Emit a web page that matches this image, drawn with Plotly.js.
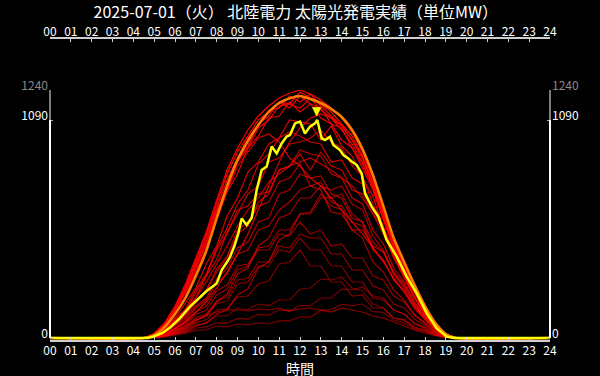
<!DOCTYPE html>
<html>
<head>
<meta charset="utf-8">
<script src="https://cdn.plot.ly/plotly-3.0.1.min.js"></script>
<style>
html,body{margin:0;padding:0;background:#000;}
#chart{width:600px;height:376px;}
</style>
</head>
<body>
<div id="chart"></div>
<script>
// ---- data ----
const TITLE = '2025-07-01（火） 北陸電力 太陽光発電実績（単位MW）';
const X_TITLE = '時間';
const HOURS = [0,1,2,3,4,5,6,7,8,9,10,11,12,13,14,15,16,17,18,19,20,21,22,23,24];
const HOUR_LABELS = ['00','01','02','03','04','05','06','07','08','09','10','11','12','13','14','15','16','17','18','19','20','21','22','23','24'];

// half-hour time grid for past days (hours)
const T = [0,4.5,5,5.5,6,6.5,7,7.5,8,8.5,9,9.5,10,10.5,11,11.5,12,12.5,13,13.5,14,14.5,15,15.5,16,16.5,17,17.5,18,18.5,19,19.5,24];

// past days (MW)
const d01 = [0,0,3,10,24,38,66,74,110,112,150,142,170,162,190,190,245,250,295,290,305,250,235,170,150,100,88,50,38,16,4,0,0];
const d02 = [0,0,17,62,138,235,355,480,630,760,880,950,1050,1090,1160,1170,1150,1200,1140,1100,1040,970,880,760,610,460,345,235,138,62,16,0,0];
const d03 = [0,0,5,18,42,66,118,140,215,245,340,360,440,440,520,510,580,520,540,460,470,400,400,310,290,210,180,115,78,32,7,0,0];
const d04 = [0,0,2,8,22,33,60,75,120,140,215,245,350,380,490,520,620,630,720,660,640,540,500,380,330,240,190,115,72,30,6,0,0];
const d05 = [0,0,10,38,85,145,200,310,390,530,620,720,760,880,900,970,980,1000,1040,980,950,860,810,670,560,410,315,205,126,55,13,0,0];
const d06 = [0,0,2,6,16,23,38,42,60,56,70,66,76,70,86,86,106,104,138,142,168,162,170,132,128,90,76,46,32,14,3,0,0];
const d07 = [0,0,15,55,125,210,330,440,590,730,820,950,1010,1100,1110,1180,1130,1170,1100,1070,990,950,850,740,590,450,335,228,132,58,14,0,0];
const d08 = [0,0,6,22,52,85,150,190,275,320,420,440,540,560,640,680,740,760,780,680,660,580,560,440,390,290,240,155,96,40,9,0,0];
const d09 = [0,0,4,14,32,52,92,110,172,185,270,280,360,360,440,430,500,440,440,360,360,280,280,200,190,140,120,75,52,22,5,0,0];
const d10 = [0,0,8,35,82,135,225,310,440,520,640,660,720,730,840,860,920,840,930,860,840,740,720,620,550,410,320,200,120,50,12,0,0];
const d11 = [0,0,19,64,140,240,360,470,640,740,890,960,1070,1110,1180,1150,1210,1170,1150,1070,1050,950,870,750,600,455,340,232,135,60,15,0,0];
const d12 = [0,0,2,8,20,28,50,56,76,74,98,94,118,114,140,134,162,162,200,200,245,240,255,210,200,140,118,70,48,20,4,0,0];
const d13 = [0,0,6,25,62,95,160,200,295,350,450,480,580,600,720,740,820,800,810,720,700,600,580,480,430,320,260,170,106,45,10,0,0];
const d14 = [0,0,12,45,100,175,250,370,460,610,700,830,880,970,1000,1090,1080,1070,990,1060,960,910,800,710,550,440,310,225,125,58,14,0,0];
const d15 = [0,0,3,12,27,42,76,92,140,148,205,210,270,285,370,380,440,360,360,280,280,210,215,150,150,100,92,55,40,18,4,0,0];
const d16 = [0,0,18,66,145,245,370,500,650,790,900,1000,1060,1140,1150,1210,1180,1220,1160,1110,1060,990,900,770,620,470,355,240,140,64,16,0,0];
const d17 = [0,0,5,20,48,75,130,160,235,265,360,370,450,460,540,540,620,620,700,700,720,620,580,450,390,290,230,145,92,38,8,0,0];
const d18 = [0,0,8,30,72,115,185,240,345,410,540,580,660,680,780,800,870,760,740,630,620,540,540,460,430,330,270,175,112,48,10,0,0];
const d19 = [0,0,4,15,37,56,102,120,185,205,290,300,380,380,460,450,520,500,500,420,420,340,340,260,240,170,150,95,62,28,6,0,0];
const d20 = [0,0,10,40,92,145,240,320,450,550,670,740,870,920,1000,1030,1010,980,970,880,890,800,770,640,550,400,310,200,122,52,12,0,0];
const d21 = [0,0,3,12,30,48,85,115,180,220,320,350,460,500,600,620,700,700,760,740,760,670,640,510,440,320,250,155,96,40,8,0,0];
const d22 = [0,0,22,75,160,270,400,530,690,840,950,1040,1110,1160,1200,1225,1240,1220,1190,1150,1100,1030,930,800,650,490,370,255,150,70,18,0,0];
const d23 = [0,0,7,28,68,105,175,235,330,400,520,560,680,720,840,860,940,920,910,820,800,700,670,540,470,350,280,180,112,48,10,0,0];
const d24 = [0,0,20,70,150,255,385,515,670,820,930,1010,1090,1130,1180,1170,1230,1200,1170,1130,1070,1010,910,780,630,480,360,248,146,66,17,0,0];
const d25 = [0,0,16,60,135,225,340,460,610,740,860,930,1000,1020,980,900,860,800,760,700,640,580,520,450,380,300,230,160,100,45,10,0,0];
const d26 = [0,0,5,20,45,80,130,180,250,330,420,520,640,760,880,980,1050,1100,1120,1100,1060,990,900,780,630,480,360,245,145,65,16,0,0];
const d27 = [0,0,3,14,35,60,90,110,130,140,140,135,145,140,150,135,145,150,140,130,150,140,130,110,100,80,60,40,25,12,3,0,0];
const d28 = [0,0,9,34,78,130,200,280,370,460,560,640,700,780,820,860,880,900,870,840,800,760,700,620,520,400,300,200,120,52,12,0,0];
const PAST = [d01,d06,d12,d15,d09,d27,d19,d03,d17,d04,d21,d08,d13,d18,d23,d28,d10,d05,d20,d25,d26,d14,d07,d11,d02,d16,d24,d22];

// highlighted reference day (orange)
const ORANGE_Y = [0,0,15,55,120,200,310,435,600,760,890,985,1065,1130,1175,1198,1210,1195,1175,1145,1105,1040,945,815,660,500,380,265,160,75,20,0,0];

// today (yellow)
const TODAY_X = [0,4.7,5.0,5.4,5.76,6.2,6.72,7.1,7.52,8.0,8.24,8.5,8.64,8.85,9.04,9.2,9.44,9.68,9.92,10.16,10.4,10.64,10.88,11.12,11.36,11.52,11.76,12.0,12.24,12.48,12.72,12.83,13.04,13.2,13.44,13.6,13.92,14.08,14.32,14.48,14.72,14.96,15.12,15.44,15.76,16.16,16.64,17.12,17.6,18.08,18.56,19.04,19.4,24];
const TODAY_Y = [0,0,8,25,52,95,157,195,235,273,340,380,405,460,523,598,565,600,740,840,857,957,923,973,1007,1015,1073,1082,1023,1057,1073,1090,998,990,1007,965,940,915,898,882,865,823,723,657,607,490,407,307,223,123,48,7,0,0];

// ---- derived ----
const todayMax = Math.max(...TODAY_Y);
const todayMaxX = TODAY_X[TODAY_Y.indexOf(todayMax)];
const allMax = Math.max(todayMax, Math.max(...ORANGE_Y), ...PAST.map(a => Math.max(...a)));

const traces = [];
PAST.forEach((arr, i) => {
  const a = 0.45 + 0.55 * i / (PAST.length - 1);
  traces.push({x: T, y: arr, type: 'scatter', mode: 'lines',
    line: {color: 'rgba(255,0,0,' + a.toFixed(2) + ')', width: 1.2},
    hoverinfo: 'skip', showlegend: false});
});
traces.push({x: T, y: ORANGE_Y, type: 'scatter', mode: 'lines',
  line: {color: '#ff8000', width: 2.5, shape: 'spline', smoothing: 0.6}, showlegend: false});
traces.push({x: TODAY_X, y: TODAY_Y, type: 'scatter', mode: 'lines',
  line: {color: '#ffff00', width: 2.5}, showlegend: false});
// helper trace so that the top and right axes are drawn
traces.push({x: [0, 24], y: [0, 0], xaxis: 'x2', yaxis: 'y2', type: 'scatter', mode: 'lines',
  line: {width: 0, color: 'rgba(0,0,0,0)'}, hoverinfo: 'skip', showlegend: false});

const FONT = '"Noto Sans CJK JP", "Noto Sans", sans-serif';
const yTop = 250 / 302;
const pad = allMax * 0.008;
const yTickText = ['0', String(todayMax), '<span style="color:#8a8a8a">' + allMax + '</span>'];

const xCommon = {range: [0, 24], tickvals: HOURS, ticktext: HOUR_LABELS,
  showgrid: false, zeroline: false, showline: true, linecolor: '#cfcfcf', linewidth: 2,
  ticks: 'inside', ticklen: 3, tickcolor: '#cfcfcf', tickwidth: 1,
  tickfont: {color: '#ffffff', size: 12, family: FONT}, fixedrange: true};

const yCommon = {range: [-pad, allMax], domain: [0, yTop], tickvals: [0, todayMax, allMax], ticktext: yTickText,
  showgrid: false, zeroline: false, showline: false, ticks: 'inside', ticklen: 3,
  ticklabelshift: -4, ticklabelstandoff: 1,
  tickcolor: '#aaaaaa', tickfont: {color: '#ffffff', size: 12, family: FONT}, fixedrange: true};

const layout = {
  width: 600, height: 376,
  margin: {l: 50, r: 50, t: 38, b: 36},
  paper_bgcolor: '#000000', plot_bgcolor: '#000000',
  font: {family: FONT, color: '#ffffff'},
  title: {text: TITLE, x: 0.493, xanchor: 'center', y: 1 - 12 / 376, yanchor: 'middle', yref: 'container',
    font: {size: 16, color: '#ffffff', family: FONT}},
  xaxis: Object.assign({}, xCommon, {anchor: 'y', ticklabelstandoff: -1}),
  xaxis2: Object.assign({}, xCommon, {overlaying: 'x', side: 'top', anchor: 'free', position: 1, ticklabelstandoff: -4}),
  yaxis: Object.assign({}, yCommon, {side: 'left'}),
  yaxis2: Object.assign({}, yCommon, {side: 'right', overlaying: 'y', anchor: 'x'}),
  shapes: [
    {type: 'line', xref: 'paper', yref: 'y', x0: 0, x1: 0, y0: 0, y1: todayMax, line: {color: '#ffffff', width: 2}},
    {type: 'line', xref: 'paper', yref: 'y', x0: 0, x1: 0, y0: todayMax, y1: allMax, line: {color: '#7a7a7a', width: 2}},
    {type: 'line', xref: 'paper', yref: 'y', x0: 1, x1: 1, y0: 0, y1: todayMax, line: {color: '#ffffff', width: 2}},
    {type: 'line', xref: 'paper', yref: 'y', x0: 1, x1: 1, y0: todayMax, y1: allMax, line: {color: '#7a7a7a', width: 2}}
  ],
  annotations: [
    {x: todayMaxX, y: todayMax, xref: 'x', yref: 'y', text: '▼', showarrow: false,
      yanchor: 'bottom', yshift: 0, font: {color: '#ffff00', size: 12, family: 'DejaVu Sans'}},
    {x: 0.5, y: 0, xref: 'paper', yref: 'paper', text: X_TITLE, showarrow: false,
      xanchor: 'center', yanchor: 'top', yshift: -16, font: {color: '#ffffff', size: 14, family: FONT}}
  ]
};

Plotly.newPlot('chart', traces, layout, {staticPlot: true, displayModeBar: false});
</script>
</body>
</html>
